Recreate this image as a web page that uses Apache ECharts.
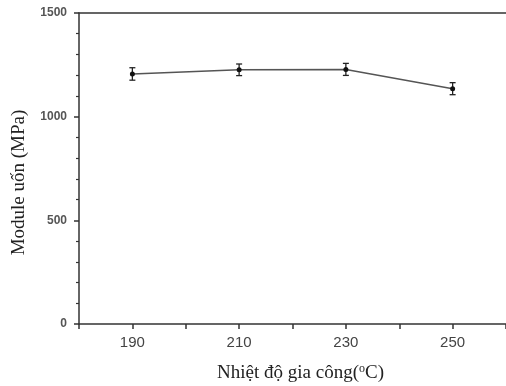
<!DOCTYPE html>
<html><head><meta charset="utf-8">
<script src="https://cdn.jsdelivr.net/npm/echarts@6/dist/echarts.min.js"></script>
<style>html,body{margin:0;padding:0;background:#fff}#c{width:506px;height:386px}</style>
</head><body><div id="c"></div>
<script>
const temperatures = [190, 210, 230, 250];
const modulus = [1206, 1226, 1228, 1135];
const errors = [30, 28, 29, 29];
const xTickLabels = [190, 210, 230, 250];
const yTickLabels = [0, 500, 1000, 1500];

const lineData = temperatures.map((t, i) => [t, modulus[i]]);
const errData = temperatures.map((t, i) => [t, modulus[i] - errors[i], modulus[i] + errors[i]]);

const chart = echarts.init(document.getElementById('c'), null, {renderer: 'canvas'});
chart.setOption({
  animation: false,
  backgroundColor: '#fff',
  grid: {left: 79, top: 13, right: 0, bottom: 62, containLabel: false, outerBoundsMode: 'none'},
  xAxis: [{
    type: 'value', min: 180, max: 260, interval: 10,
    axisLine: {show: true, onZero: false, lineStyle: {color: '#333', width: 1.5}},
    axisTick: {show: true, length: 5, inside: false, lineStyle: {color: '#333', width: 1.5}},
    splitLine: {show: false},
    axisLabel: {
      color: '#444', fontFamily: 'Liberation Sans, Arial', fontSize: 15, margin: 11,
      formatter: v => xTickLabels.includes(v) ? String(v) : ''
    },
    name: '{a|Nhiệt độ gia công(}{s|o}{a|C)}',
    nameLocation: 'middle', nameGap: 39,
    nameTextStyle: {
      padding: [0, 0, 0, 16],
      rich: {
        a: {fontFamily: 'Liberation Serif, Times New Roman', fontSize: 19, color: '#222'},
        s: {fontFamily: 'Liberation Serif, Times New Roman', fontSize: 12, color: '#222', verticalAlign: 'top', padding: [0, 0, 9, 0]}
      }
    }
  }, {
    type: 'value', min: 180, max: 260, position: 'top',
    axisLine: {show: true, onZero: false, lineStyle: {color: '#333', width: 1.5}},
    axisTick: {show: false}, axisLabel: {show: false}, splitLine: {show: false}
  }],
  yAxis: {
    type: 'value', min: 0, max: 1500, interval: 500,
    axisLine: {show: true, onZero: false, lineStyle: {color: '#333', width: 1.5}},
    axisTick: {show: true, length: 5, lineStyle: {color: '#333', width: 1.5}},
    minorTick: {show: true, splitNumber: 5, length: 3, lineStyle: {color: '#333', width: 1.2}},
    splitLine: {show: false},
    axisLabel: {
      color: '#555', fontFamily: 'Liberation Sans, Arial', fontSize: 12, fontWeight: 'bold', margin: 12,
      formatter: v => yTickLabels.includes(v) ? String(v) : ''
    },
    name: 'Module uốn (MPa)', nameLocation: 'middle', nameGap: 50, nameRotate: 90,
    nameTextStyle: {fontFamily: 'Liberation Serif, Times New Roman', fontSize: 19, color: '#222', padding: [0, 28, 0, 0]}
  },
  series: [{
    type: 'line', data: lineData, xAxisIndex: 0,
    symbol: 'circle', symbolSize: 5,
    itemStyle: {color: '#111'},
    lineStyle: {color: '#555', width: 1.5}
  }, {
    type: 'custom', data: errData, xAxisIndex: 0, z: 3,
    renderItem: (params, api) => {
      const x = api.value(0);
      const lo = api.coord([x, api.value(1)]);
      const hi = api.coord([x, api.value(2)]);
      const w = 3;
      const st = {stroke: '#222', lineWidth: 1.3};
      return {type: 'group', children: [
        {type: 'line', shape: {x1: lo[0], y1: lo[1], x2: hi[0], y2: hi[1]}, style: st},
        {type: 'line', shape: {x1: lo[0]-w, y1: lo[1], x2: lo[0]+w, y2: lo[1]}, style: st},
        {type: 'line', shape: {x1: hi[0]-w, y1: hi[1], x2: hi[0]+w, y2: hi[1]}, style: st}
      ]};
    }
  }]
});
</script></body></html>
